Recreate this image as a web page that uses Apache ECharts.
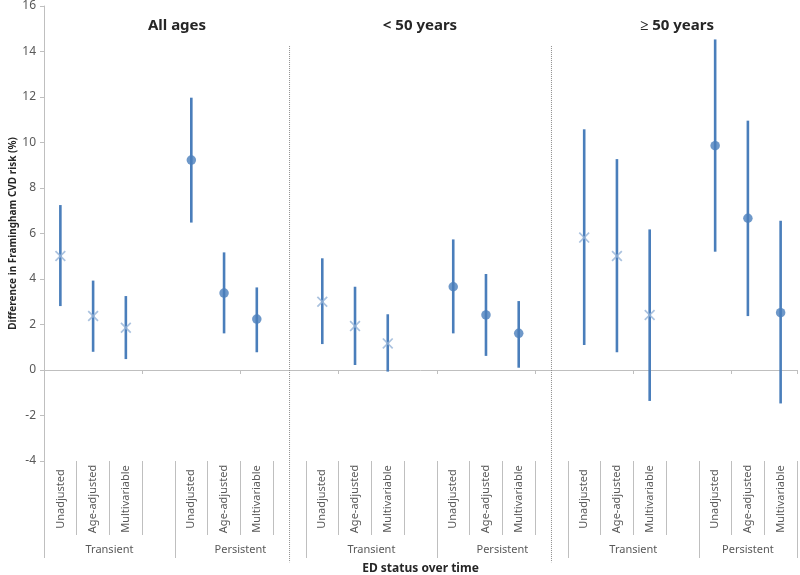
<!DOCTYPE html>
<html>
<head>
<meta charset="utf-8">
<script src="https://cdn.jsdelivr.net/npm/echarts@6/dist/echarts.min.js"></script>
<style>html,body{margin:0;padding:0;background:#fff}#c{width:800px;height:575px}</style>
</head>
<body>
<div id="c"></div>
<script>
const panelTitles = ['All ages', '< 50 years', '\u2265 50 years'];
const methods = ['Unadjusted', 'Age-adjusted', 'Multivariable'];
const groupNames = ['Transient', 'Persistent'];
// values per panel, in the order of methods
const transientEst   = [[5.01, 2.37, 1.86], [3.00, 1.93, 1.17], [5.82, 5.01, 2.42]];
const transientLow   = [[2.81, 0.80, 0.48], [1.14, 0.22, -0.07], [1.10, 0.78, -1.36]];
const transientHigh  = [[7.25, 3.93, 3.25], [4.91, 3.66, 2.45], [10.58, 9.27, 6.18]];
const persistentEst  = [[9.23, 3.38, 2.24], [3.66, 2.42, 1.61], [9.86, 6.67, 2.52]];
const persistentLow  = [[6.48, 1.61, 0.78], [1.61, 0.62, 0.10], [5.20, 2.37, -1.47]];
const persistentHigh = [[11.97, 5.17, 3.63], [5.74, 4.22, 3.03], [14.53, 10.96, 6.56]];
const yMin = -4, yMax = 16, yStep = 2;
const dividerSpan = [14.24, -8.45];
const titleCenters = [172, 415, 672];

// category layout: per panel 3 transient, gap, 3 persistent, gap (last panel without trailing gap)
const categories = [];
const tIdx = (p, i) => p * 8 + i;
const pIdx = (p, i) => p * 8 + 4 + i;
panelTitles.forEach((t, p) => {
  methods.forEach(m => categories.push(m));
  categories.push('');
  methods.forEach(m => categories.push(m));
  if (p < panelTitles.length - 1) categories.push('');
});
const nCat = categories.length;

// group axis on half-category points
const groupLabels = new Array(nCat * 2 + 1).fill('');
const groupBounds = [];
panelTitles.forEach((t, p) => {
  const s1 = p * 8, e1 = p * 8 + 4, s2 = e1, e2 = Math.min(p * 8 + 8, nCat);
  groupLabels[s1 + e1] = groupNames[0];
  groupLabels[s2 + e2] = groupNames[1];
  groupBounds.push(2 * s1, 2 * e1, 2 * e2);
});

const tMarks = [], pMarks = [], bars = [], dividers = [];
panelTitles.forEach((t, p) => {
  methods.forEach((m, i) => {
    tMarks.push([tIdx(p, i), transientEst[p][i]]);
    pMarks.push([pIdx(p, i), persistentEst[p][i]]);
    bars.push([tIdx(p, i), transientLow[p][i], transientHigh[p][i]]);
    bars.push([pIdx(p, i), persistentLow[p][i], persistentHigh[p][i]]);
  });
  if (p < panelTitles.length - 1) dividers.push([p * 8 + 7, dividerSpan[0], dividerSpan[1]]);
});

const FONT = 'Noto Sans';
const axisGray = '#bfbfbf';
const crossPath = 'path://M0,1.1L1.1,0L5,3.9L8.9,0L10,1.1L6.1,5L10,8.9L8.9,10L5,6.1L1.1,10L0,8.9L3.9,5Z';

const chart = echarts.init(document.getElementById('c'), null, {renderer: 'canvas'});
chart.setOption({
  animation: false,
  backgroundColor: '#fff',
  title: panelTitles.map((t, p) => ({
    text: t, left: titleCenters[p], top: 13, textAlign: 'center',
    textStyle: {fontFamily: FONT, fontSize: 15, fontWeight: 'bold', color: '#262626'}
  })),
  grid: {left: 44, right: 3, top: 6, bottom: 114, outerBoundsMode: 'none', containLabel: false},
  xAxis: [
    {
      type: 'category', data: categories, position: 'bottom',
      axisLine: {onZero: true, lineStyle: {color: axisGray, width: 1}},
      axisTick: {show: true, length: 4, lineStyle: {color: axisGray}},
      axisLabel: {show: false}, splitLine: {show: false}
    },
    {
      type: 'category', data: categories, position: 'bottom',
      axisLine: {show: false, onZero: false},
      axisTick: {show: true, length: 74, interval: 0, lineStyle: {color: axisGray}},
      axisLabel: {show: true, interval: 0, rotate: 90, align: 'center', verticalAlign: 'middle',
        margin: 38, fontFamily: FONT, fontSize: 11, color: '#595959'},
      splitLine: {show: false}
    },
    {
      type: 'category', data: groupLabels, position: 'bottom', boundaryGap: false,
      axisLine: {show: false, onZero: false},
      axisTick: {show: true, length: 97, interval: (idx) => groupBounds.indexOf(idx) >= 0,
        lineStyle: {color: axisGray}},
      axisLabel: {show: true, interval: 0, margin: 83, fontFamily: FONT, fontSize: 11, color: '#595959'},
      splitLine: {show: false},
      name: 'ED status over time', nameLocation: 'middle', nameGap: 102, nameMoveOverlap: false,
      nameTextStyle: {fontFamily: FONT, fontSize: 12, fontWeight: 'bold', color: '#262626'}
    }
  ],
  yAxis: {
    type: 'value', min: yMin, max: yMax, interval: yStep,
    axisLine: {show: true, lineStyle: {color: axisGray}},
    axisTick: {show: true, length: 4, lineStyle: {color: axisGray}},
    axisLabel: {margin: 8, fontFamily: FONT, fontSize: 12, color: '#595959'},
    splitLine: {show: false},
    name: 'Difference in Framingham CVD risk (%)', nameLocation: 'middle', nameGap: 26,
    nameMoveOverlap: false,
    nameTextStyle: {fontFamily: FONT, fontSize: 10, fontWeight: 'bold', color: '#262626'}
  },
  series: [
    {
      type: 'custom', name: 'dividers', xAxisIndex: 0, clip: false, silent: true,
      data: dividers,
      renderItem: (params, api) => {
        const a = api.coord([api.value(0), api.value(1)]);
        const b = api.coord([api.value(0), api.value(2)]);
        return {type: 'line', shape: {x1: a[0], y1: a[1], x2: b[0], y2: b[1]},
          style: {stroke: '#8c8c8c', lineWidth: 1, lineDash: [1, 1]}};
      }
    },
    {
      type: 'custom', name: 'ci', xAxisIndex: 0, clip: false,
      data: bars,
      renderItem: (params, api) => {
        const a = api.coord([api.value(0), api.value(1)]);
        const b = api.coord([api.value(0), api.value(2)]);
        return {type: 'line', shape: {x1: a[0], y1: a[1], x2: b[0], y2: b[1]},
          style: {stroke: '#4a7ebb', lineWidth: 2.6}};
      }
    },
    {
      type: 'scatter', name: 'Transient', xAxisIndex: 0, data: tMarks,
      symbol: crossPath, symbolSize: [11, 11],
      itemStyle: {color: '#95b3d7'}
    },
    {
      type: 'scatter', name: 'Persistent', xAxisIndex: 0, data: pMarks,
      symbol: 'circle', symbolSize: 9.5,
      itemStyle: {color: '#4a7ebb'}
    }
  ]
});
</script>
</body>
</html>
